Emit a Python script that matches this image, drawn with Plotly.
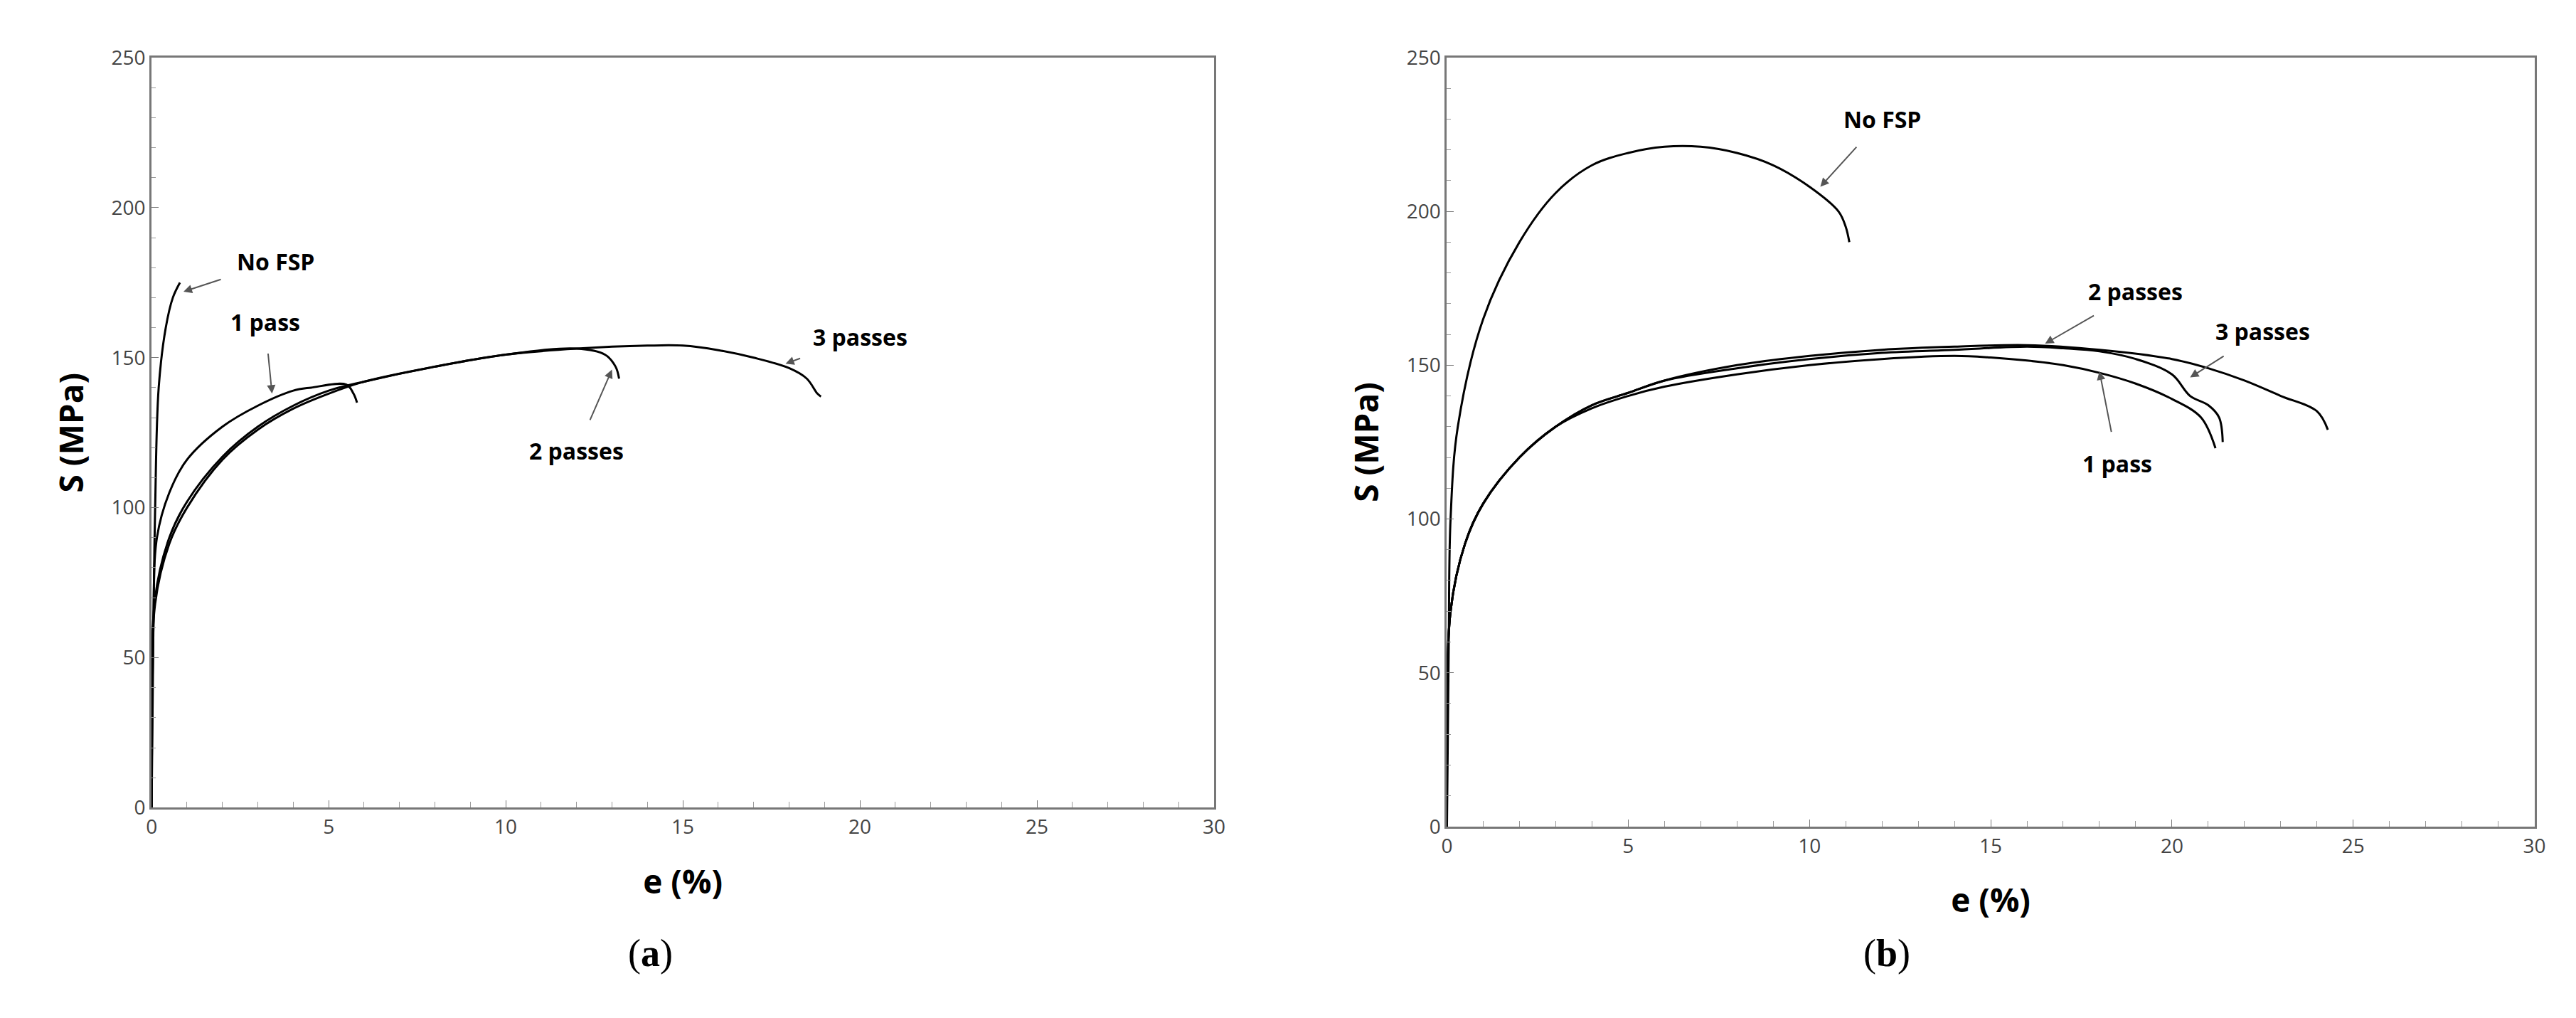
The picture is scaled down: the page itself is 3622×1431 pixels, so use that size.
import plotly.graph_objects as go

# Panel (a) data
a_nofsp_x = [0, 0.05, 0.1, 0.2, 0.4, 0.6, 0.8]
a_nofsp_y = [0, 60, 100, 140, 160, 170, 175]
a_1p_x = [0, 0.05, 0.15, 0.5, 1, 2, 3, 4, 4.5, 5.5, 5.7, 5.8]
a_1p_y = [0, 60, 90, 105, 116, 127, 134, 139, 140, 141, 138, 135]
a_2p_x = [0, 0.1, 0.5, 1, 2, 3, 4, 5, 6, 8, 10, 12, 12.8, 13.1, 13.2]
a_2p_y = [0, 70, 90, 102, 117, 127, 134, 139, 142, 147, 151, 153, 151, 147, 143]
a_3p_x = [0, 0.1, 0.5, 1, 2, 3, 4, 5, 6, 8, 10, 12, 14, 15, 16, 17, 18, 18.5, 18.8, 18.9]
a_3p_y = [0, 68, 88, 100, 116, 126, 133, 138, 142, 147, 151, 153, 154, 154, 152.5, 150, 146.5, 143, 138, 137]

# Panel (b) data
b_nofsp_x = [0, 0.05, 0.1, 0.3, 1, 2, 3, 4, 5, 6, 7, 8, 9, 10, 10.8, 11, 11.1]
b_nofsp_y = [0, 60, 100, 130, 165, 190, 206, 215, 219, 221, 221, 219, 215, 208, 200, 195, 190]
b_1p_x = [0, 0.1, 0.5, 1, 2, 3, 4, 5, 6, 8, 10, 12, 14, 15, 16, 17, 18, 19, 20, 20.8, 21.2]
b_1p_y = [0, 70, 92, 105, 120, 130, 136, 140, 143, 147, 150, 152, 153, 152.5, 151.5, 150, 147.5, 144, 139, 133, 123]
b_2p_x = [0, 0.1, 0.5, 1, 2, 3, 4, 5, 6, 8, 10, 12, 14, 16, 17, 18, 19, 20, 20.5, 21, 21.3, 21.4]
b_2p_y = [0, 70, 92, 105, 120, 130, 137, 141, 145, 149, 152, 154, 155, 156, 155.5, 154.5, 152, 147, 140, 137, 133, 125]
b_3p_x = [0, 0.1, 0.5, 1, 2, 3, 4, 5, 6, 8, 10, 12, 14, 16, 18, 20, 21, 22, 23, 24, 24.3]
b_3p_y = [0, 70, 92, 105, 120, 130, 137, 141, 145, 150, 153, 155, 156, 156.5, 155, 152, 149, 145, 140, 135, 129]

x_ticks = [0, 5, 10, 15, 20, 25, 30]
y_ticks = [0, 50, 100, 150, 200, 250]

fig = go.Figure()
for xs, ys in [(a_nofsp_x, a_nofsp_y), (a_1p_x, a_1p_y), (a_2p_x, a_2p_y), (a_3p_x, a_3p_y)]:
    fig.add_trace(go.Scatter(x=xs, y=ys, mode="lines", line=dict(color="black", width=3, shape="spline"), xaxis="x", yaxis="y", showlegend=False))
for xs, ys in [(b_nofsp_x, b_nofsp_y), (b_1p_x, b_1p_y), (b_2p_x, b_2p_y), (b_3p_x, b_3p_y)]:
    fig.add_trace(go.Scatter(x=xs, y=ys, mode="lines", line=dict(color="black", width=3, shape="spline"), xaxis="x2", yaxis="y2", showlegend=False))

tickfont = dict(family="Liberation Sans Narrow, Open Sans", size=28, color="#444")
titlefont = dict(family="Open Sans", size=46, color="black", weight="bold")

def xax(dom, anchor):
    return dict(domain=dom, anchor=anchor, range=[0, 30], tickvals=x_ticks, showgrid=False, zeroline=False,
                showline=True, linecolor="#777", linewidth=3, mirror=True, ticks="inside", ticklen=10, tickcolor="#777",
                minor=dict(dtick=1, ticks="inside", ticklen=8, tickcolor="#999"),
                tickfont=tickfont, title=dict(text="e (%)", font=titlefont, standoff=45))

def yax(dom, anchor):
    return dict(domain=dom, anchor=anchor, range=[0, 250], tickvals=y_ticks, showgrid=False, zeroline=False,
                showline=True, linecolor="#777", linewidth=3, mirror=True, ticks="inside", ticklen=10, tickcolor="#777",
                minor=dict(dtick=10, ticks="inside", ticklen=6, tickcolor="#999"),
                tickfont=tickfont, title=dict(text="S (MPa)", font=titlefont, standoff=25))

fig.update_layout(
    width=3622, height=1431, margin=dict(l=0, r=0, t=0, b=0),
    paper_bgcolor="white", plot_bgcolor="white",
    xaxis=xax([0.0548, 0.470], "y"), yaxis=yax([0.205, 0.962], "x"),
    xaxis2=xax([0.561, 0.986], "y2"), yaxis2=yax([0.186, 0.962], "x2"),
)

annfont = dict(family="Liberation Sans Narrow, Open Sans", size=32, color="black", weight="bold")
anns = [
    ("x", "y", "No FSP", 3.5, 182, 0.9, 172),
    ("x", "y", "1 pass", 3.2, 162, 3.4, 138),
    ("x", "y", "2 passes", 12, 119, 13.0, 146),
    ("x", "y", "3 passes", 20, 157, 17.9, 148),
    ("x2", "y2", "No FSP", 12.0, 230, 10.3, 208),
    ("x2", "y2", "2 passes", 19.0, 174, 16.5, 157),
    ("x2", "y2", "3 passes", 22.5, 161, 20.5, 146),
    ("x2", "y2", "1 pass", 18.5, 118, 18.0, 148),
]
for xr, yr, t, lx, ly, px, py in anns:
    fig.add_annotation(xref=xr, yref=yr, x=px, y=py, ax=lx, ay=ly, axref=xr, ayref=yr, text=t,
                       font=annfont, showarrow=True, arrowhead=2, arrowsize=1.2, arrowwidth=2, arrowcolor="#555", standoff=0, startstandoff=22)

capfont = dict(family="Liberation Serif", size=54, color="black")
fig.add_annotation(xref="paper", yref="paper", x=0.2405, y=0.035, text="(<b>a</b>)", showarrow=False, font=capfont)
fig.add_annotation(xref="paper", yref="paper", x=0.7425, y=0.035, text="(<b>b</b>)", showarrow=False, font=capfont)

fig.write_html("out.html")
